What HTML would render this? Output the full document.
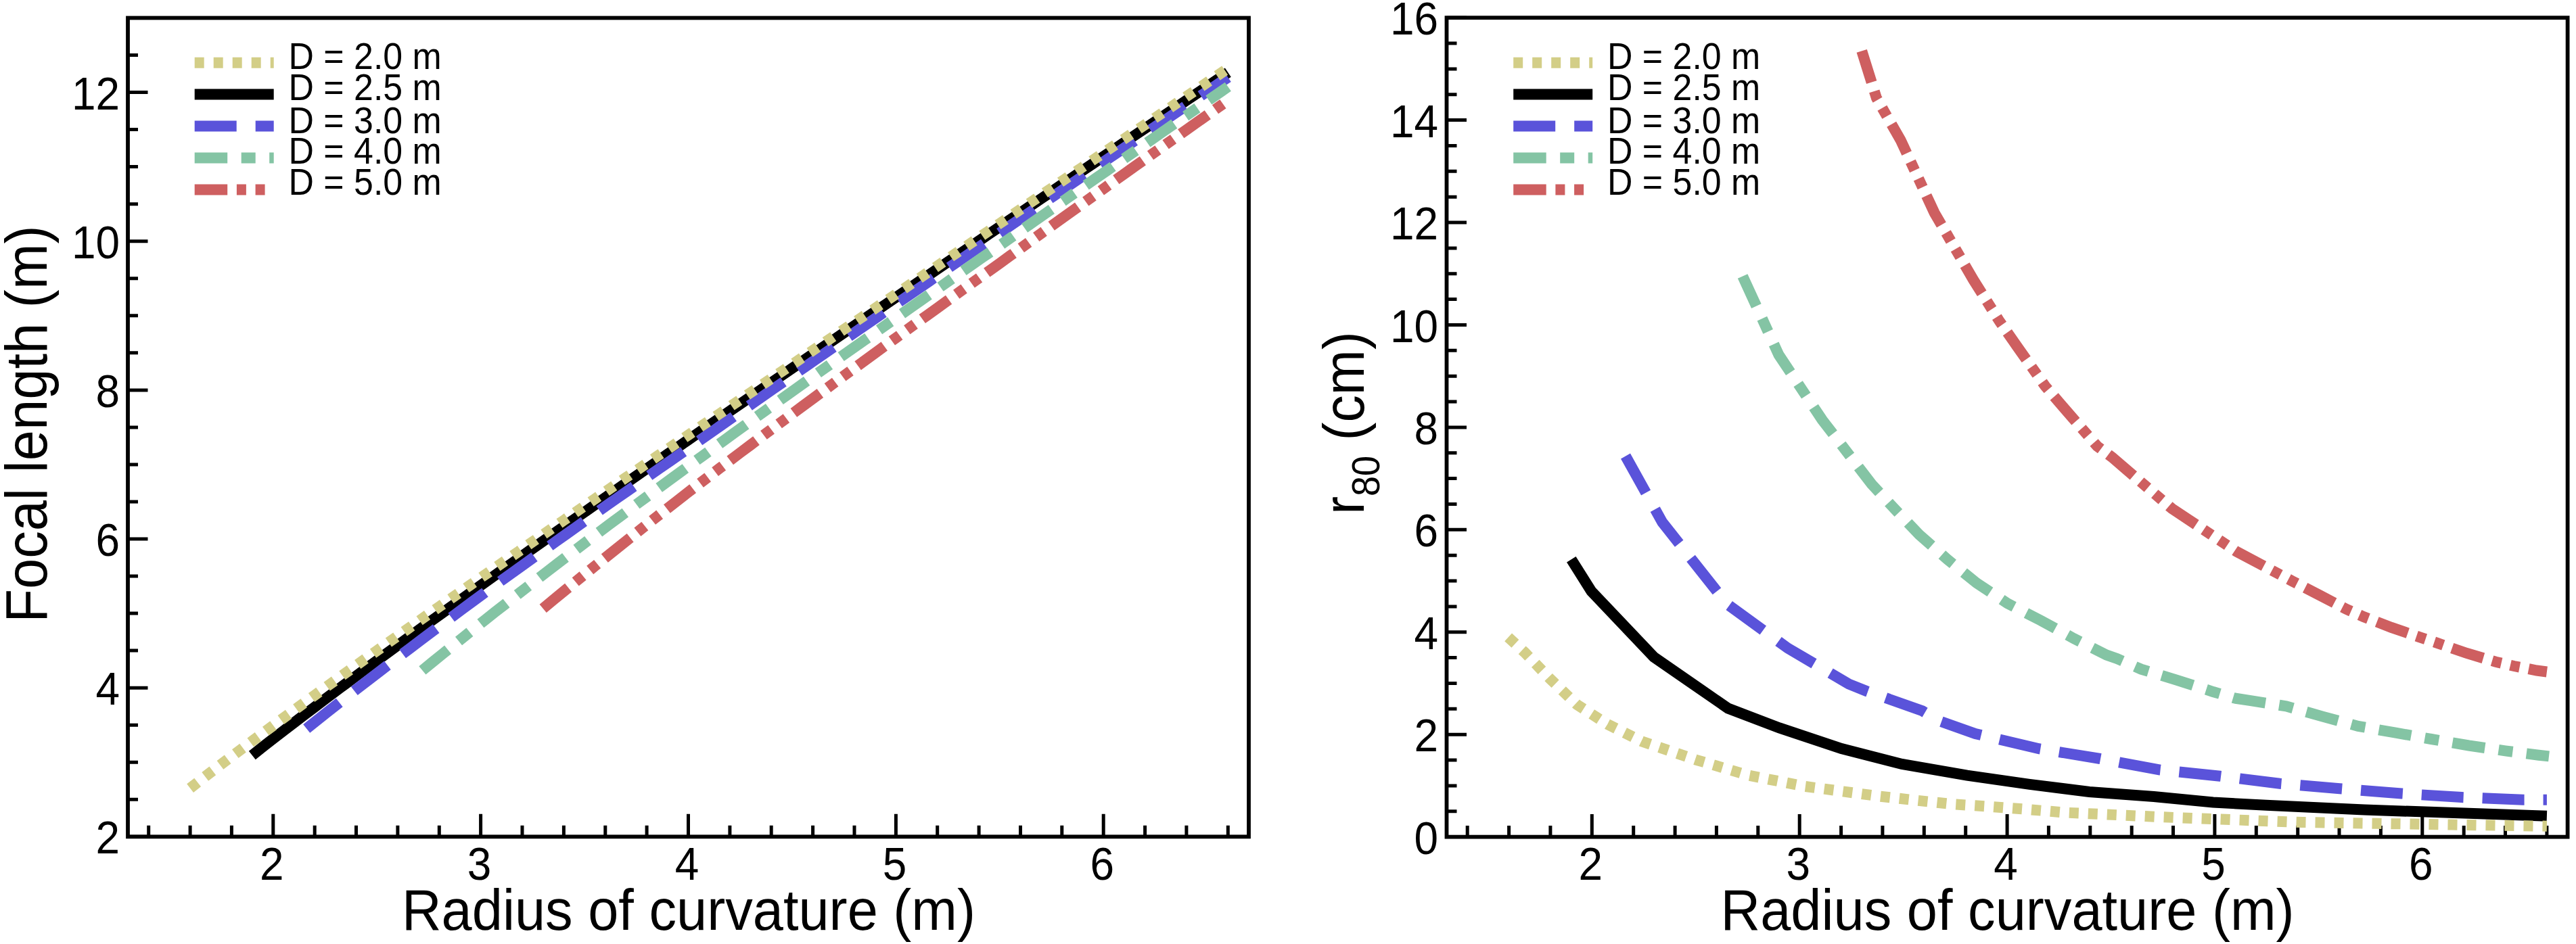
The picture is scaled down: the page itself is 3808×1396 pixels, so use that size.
<!DOCTYPE html><html><head><meta charset="utf-8"><style>html,body{margin:0;padding:0;background:#fff;width:3808px;height:1396px;overflow:hidden}svg{display:block}</style></head><body>
<svg width="3808" height="1396" viewBox="0 0 3808 1396" font-family='"Liberation Sans", sans-serif'>
<rect width="3808" height="1396" fill="#fff"/>
<rect x="189.0" y="26.5" width="1657.0" height="1210.8" fill="none" stroke="#000" stroke-width="5.8"/>
<path d="M219.7 1237.3V1220.8M281.1 1237.3V1220.8M342.4 1237.3V1220.8M403.8 1237.3V1203.8M465.2 1237.3V1220.8M526.5 1237.3V1220.8M587.9 1237.3V1220.8M649.3 1237.3V1220.8M710.6 1237.3V1203.8M772.0 1237.3V1220.8M833.4 1237.3V1220.8M894.8 1237.3V1220.8M956.1 1237.3V1220.8M1017.5 1237.3V1203.8M1078.9 1237.3V1220.8M1140.2 1237.3V1220.8M1201.6 1237.3V1220.8M1263.0 1237.3V1220.8M1324.4 1237.3V1203.8M1385.7 1237.3V1220.8M1447.1 1237.3V1220.8M1508.5 1237.3V1220.8M1569.8 1237.3V1220.8M1631.2 1237.3V1203.8M1692.6 1237.3V1220.8M1753.9 1237.3V1220.8M1815.3 1237.3V1220.8M189.0 1237.3H218.5M189.0 1017.2H218.5M189.0 797.0H218.5M189.0 576.9H218.5M189.0 356.7H218.5M189.0 136.6H218.5M189.0 1182.3H204.0M189.0 1127.2H204.0M189.0 1072.2H204.0M189.0 962.1H204.0M189.0 907.1H204.0M189.0 852.0H204.0M189.0 742.0H204.0M189.0 686.9H204.0M189.0 631.9H204.0M189.0 521.8H204.0M189.0 466.8H204.0M189.0 411.8H204.0M189.0 301.7H204.0M189.0 246.6H204.0M189.0 191.6H204.0M189.0 81.5H204.0" stroke="#000" stroke-width="5.0" fill="none"/>
<text transform="translate(401.8,1301.0) scale(0.94,1)" font-size="68" text-anchor="middle">2</text>
<text transform="translate(708.6,1301.0) scale(0.94,1)" font-size="68" text-anchor="middle">3</text>
<text transform="translate(1015.5,1301.0) scale(0.94,1)" font-size="68" text-anchor="middle">4</text>
<text transform="translate(1322.4,1301.0) scale(0.94,1)" font-size="68" text-anchor="middle">5</text>
<text transform="translate(1629.2,1301.0) scale(0.94,1)" font-size="68" text-anchor="middle">6</text>
<text transform="translate(177.0,1262.3) scale(0.94,1)" font-size="68" text-anchor="end">2</text>
<text transform="translate(177.0,1042.2) scale(0.94,1)" font-size="68" text-anchor="end">4</text>
<text transform="translate(177.0,822.0) scale(0.94,1)" font-size="68" text-anchor="end">6</text>
<text transform="translate(177.0,601.9) scale(0.94,1)" font-size="68" text-anchor="end">8</text>
<text transform="translate(177.0,381.7) scale(0.94,1)" font-size="68" text-anchor="end">10</text>
<text transform="translate(177.0,161.6) scale(0.94,1)" font-size="68" text-anchor="end">12</text>
<rect x="2138.5" y="26.2" width="1657.1" height="1211.4" fill="none" stroke="#000" stroke-width="5.8"/>
<path d="M2169.2 1237.6V1221.1M2230.6 1237.6V1221.1M2291.9 1237.6V1221.1M2353.3 1237.6V1204.1M2414.7 1237.6V1221.1M2476.1 1237.6V1221.1M2537.4 1237.6V1221.1M2598.8 1237.6V1221.1M2660.2 1237.6V1204.1M2721.6 1237.6V1221.1M2782.9 1237.6V1221.1M2844.3 1237.6V1221.1M2905.7 1237.6V1221.1M2967.1 1237.6V1204.1M3028.4 1237.6V1221.1M3089.8 1237.6V1221.1M3151.2 1237.6V1221.1M3212.5 1237.6V1221.1M3273.9 1237.6V1204.1M3335.3 1237.6V1221.1M3396.7 1237.6V1221.1M3458.0 1237.6V1221.1M3519.4 1237.6V1221.1M3580.8 1237.6V1204.1M3642.2 1237.6V1221.1M3703.5 1237.6V1221.1M3764.9 1237.6V1221.1M2138.5 1237.6H2168.0M2138.5 1086.2H2168.0M2138.5 934.8H2168.0M2138.5 783.3H2168.0M2138.5 631.9H2168.0M2138.5 480.5H2168.0M2138.5 329.0H2168.0M2138.5 177.6H2168.0M2138.5 26.2H2168.0M2138.5 1199.7H2153.5M2138.5 1161.9H2153.5M2138.5 1124.0H2153.5M2138.5 1048.3H2153.5M2138.5 1010.5H2153.5M2138.5 972.6H2153.5M2138.5 896.9H2153.5M2138.5 859.0H2153.5M2138.5 821.2H2153.5M2138.5 745.5H2153.5M2138.5 707.6H2153.5M2138.5 669.8H2153.5M2138.5 594.0H2153.5M2138.5 556.2H2153.5M2138.5 518.3H2153.5M2138.5 442.6H2153.5M2138.5 404.8H2153.5M2138.5 366.9H2153.5M2138.5 291.2H2153.5M2138.5 253.3H2153.5M2138.5 215.5H2153.5M2138.5 139.8H2153.5M2138.5 101.9H2153.5M2138.5 64.1H2153.5" stroke="#000" stroke-width="5.0" fill="none"/>
<text transform="translate(2351.3,1301.0) scale(0.94,1)" font-size="68" text-anchor="middle">2</text>
<text transform="translate(2658.2,1301.0) scale(0.94,1)" font-size="68" text-anchor="middle">3</text>
<text transform="translate(2965.1,1301.0) scale(0.94,1)" font-size="68" text-anchor="middle">4</text>
<text transform="translate(3271.9,1301.0) scale(0.94,1)" font-size="68" text-anchor="middle">5</text>
<text transform="translate(3578.8,1301.0) scale(0.94,1)" font-size="68" text-anchor="middle">6</text>
<text transform="translate(2126.0,1262.6) scale(0.94,1)" font-size="68" text-anchor="end">0</text>
<text transform="translate(2126.0,1111.2) scale(0.94,1)" font-size="68" text-anchor="end">2</text>
<text transform="translate(2126.0,959.8) scale(0.94,1)" font-size="68" text-anchor="end">4</text>
<text transform="translate(2126.0,808.3) scale(0.94,1)" font-size="68" text-anchor="end">6</text>
<text transform="translate(2126.0,656.9) scale(0.94,1)" font-size="68" text-anchor="end">8</text>
<text transform="translate(2126.0,505.5) scale(0.94,1)" font-size="68" text-anchor="end">10</text>
<text transform="translate(2126.0,354.0) scale(0.94,1)" font-size="68" text-anchor="end">12</text>
<text transform="translate(2126.0,202.6) scale(0.94,1)" font-size="68" text-anchor="end">14</text>
<text transform="translate(2126.0,51.2) scale(0.94,1)" font-size="68" text-anchor="end">16</text>
<g>
<polyline points="372.8,1116.9 388.1,1104.8 403.5,1092.8 418.8,1081.0 434.2,1069.2 449.5,1057.4 464.9,1045.8 480.2,1034.2 495.5,1022.6 510.9,1011.2 526.2,999.8 541.6,988.4 556.9,977.1 572.3,965.8 587.6,954.6 602.9,943.4 618.3,932.2 633.6,921.1 649.0,910.0 664.3,898.9 679.7,887.9 695.0,876.9 710.3,865.9 725.7,855.0 741.0,844.1 756.4,833.2 771.7,822.3 787.1,811.4 802.4,800.6 817.7,789.8 833.1,779.0 848.4,768.2 863.8,757.5 879.1,746.7 894.5,736.0 909.8,725.3 925.1,714.6 940.5,703.9 955.8,693.2 971.2,682.6 986.5,671.9 1001.9,661.3 1017.2,650.6 1032.5,640.0 1047.9,629.4 1063.2,618.8 1078.6,608.2 1093.9,597.7 1109.2,587.1 1124.6,576.6 1139.9,566.0 1155.3,555.5 1170.6,544.9 1186.0,534.4 1201.3,523.9 1216.6,513.4 1232.0,502.9 1247.3,492.4 1262.7,481.9 1278.0,471.4 1293.4,460.9 1308.7,450.5 1324.0,440.0 1339.4,429.5 1354.7,419.1 1370.1,408.6 1385.4,398.2 1400.8,387.7 1416.1,377.3 1431.4,366.9 1446.8,356.5 1462.1,346.0 1477.5,335.6 1492.8,325.2 1508.2,314.8 1523.5,304.4 1538.8,294.0 1554.2,283.6 1569.5,273.2 1584.9,262.8 1600.2,252.4 1615.6,242.0 1630.9,231.7 1646.2,221.3 1661.6,210.9 1676.9,200.5 1692.3,190.2 1707.6,179.8 1723.0,169.4 1738.3,159.1 1753.6,148.7 1769.0,138.4 1784.3,128.0 1799.7,117.7 1815.0,107.3 1815.3,107.1" fill="none" stroke="#000000" stroke-width="16.0" stroke-linejoin="miter" stroke-linecap="butt"/>
<polyline points="453.2,1077.6 468.5,1065.3 483.9,1053.1 499.2,1041.0 514.6,1029.0 529.9,1017.0 545.3,1005.1 560.6,993.3 575.9,981.6 591.3,969.9 606.6,958.3 622.0,946.7 637.3,935.2 652.7,923.7 668.0,912.3 683.3,900.9 698.7,889.5 714.0,878.3 729.4,867.1 744.7,856.0 760.1,845.0 775.4,833.9 790.7,822.9 806.1,812.0 821.4,801.0 836.8,790.1 852.1,779.2 867.4,768.3 882.8,757.5 898.1,746.6 913.5,735.8 928.8,725.1 944.2,714.3 959.5,703.5 974.8,692.8 990.2,682.1 1005.5,671.4 1020.9,660.7 1036.2,649.9 1051.6,639.2 1066.9,628.4 1082.2,617.7 1097.6,606.9 1112.9,596.2 1128.3,585.5 1143.6,574.8 1159.0,564.2 1174.3,553.5 1189.6,542.9 1205.0,532.2 1220.3,521.6 1235.7,511.0 1251.0,500.3 1266.4,489.7 1281.7,479.1 1297.0,468.6 1312.4,458.0 1327.7,447.4 1343.1,436.9 1358.4,426.3 1373.8,415.8 1389.1,405.2 1404.4,394.7 1419.8,384.2 1435.1,373.6 1450.5,363.1 1465.8,352.6 1481.2,342.1 1496.5,331.6 1511.8,321.1 1527.2,310.6 1542.5,300.1 1557.9,289.6 1573.2,279.1 1588.6,268.7 1603.9,258.2 1619.2,247.7 1634.6,237.2 1649.9,226.8 1665.3,216.3 1680.6,205.9 1695.9,195.4 1711.3,185.0 1726.6,174.6 1742.0,164.1 1757.3,153.7 1772.7,143.3 1788.0,132.8 1803.3,122.4 1815.3,114.3" fill="none" stroke="#5A53DA" stroke-width="16.0" stroke-linejoin="miter" stroke-linecap="butt" stroke-dasharray="62 28"/>
<polyline points="624.4,991.4 639.8,978.8 655.1,966.4 670.5,954.0 685.8,941.7 701.1,929.4 716.5,917.2 731.8,905.1 747.2,893.1 762.5,881.1 777.8,869.2 793.2,857.3 808.5,845.5 823.9,833.7 839.2,822.0 854.6,810.3 869.9,798.7 885.2,787.2 900.6,775.7 915.9,764.3 931.3,752.9 946.6,741.6 962.0,730.3 977.3,719.0 992.6,707.7 1008.0,696.5 1023.3,685.3 1038.7,674.2 1054.0,663.0 1069.4,651.9 1084.7,640.8 1100.0,629.8 1115.4,618.7 1130.7,607.7 1146.1,596.7 1161.4,585.7 1176.8,574.8 1192.1,563.8 1207.4,552.9 1222.8,542.0 1238.1,531.1 1253.5,520.3 1268.8,509.4 1284.2,498.6 1299.5,487.8 1314.8,477.0 1330.2,466.2 1345.5,455.4 1360.9,444.6 1376.2,433.9 1391.6,423.2 1406.9,412.4 1422.2,401.7 1437.6,391.0 1452.9,380.3 1468.3,369.7 1483.6,359.0 1499.0,348.2 1514.3,337.4 1529.6,326.7 1545.0,316.0 1560.3,305.2 1575.7,294.5 1591.0,283.8 1606.3,273.1 1621.7,262.4 1637.0,251.8 1652.4,241.1 1667.7,230.4 1683.1,219.8 1698.4,209.1 1713.7,198.5 1729.1,187.8 1744.4,177.2 1759.8,166.6 1775.1,156.0 1790.5,145.4 1805.8,134.8 1815.3,128.2" fill="none" stroke="#84C4A4" stroke-width="16.0" stroke-linejoin="miter" stroke-linecap="butt" stroke-dasharray="48.5 20.5 21 20.5"/>
<polyline points="802.7,899.9 818.0,887.2 833.4,874.5 848.7,862.0 864.1,849.5 879.4,837.1 894.8,824.7 910.1,812.4 925.4,800.2 940.8,788.0 956.1,775.8 971.5,763.7 986.8,751.7 1002.2,739.7 1017.5,727.8 1032.8,716.0 1048.2,704.3 1063.5,692.7 1078.9,681.1 1094.2,669.5 1109.6,658.0 1124.9,646.5 1140.2,635.0 1155.6,623.6 1170.9,612.2 1186.3,600.8 1201.6,589.5 1217.0,578.1 1232.3,566.9 1247.6,555.6 1263.0,544.4 1278.3,533.2 1293.7,522.0 1309.0,510.8 1324.4,499.7 1339.7,488.6 1355.0,477.5 1370.4,466.4 1385.7,455.4 1401.1,444.3 1416.4,433.3 1431.7,422.3 1447.1,411.3 1462.4,400.4 1477.8,389.4 1493.1,378.3 1508.5,367.3 1523.8,356.2 1539.1,345.2 1554.5,334.1 1569.8,323.1 1585.2,312.1 1600.5,301.1 1615.9,290.1 1631.2,279.2 1646.5,268.2 1661.9,257.3 1677.2,246.3 1692.6,235.4 1707.9,224.5 1723.3,213.6 1738.6,202.8 1753.9,191.9 1769.3,181.0 1784.6,170.2 1800.0,159.3 1815.3,148.5" fill="none" stroke="#CE5F60" stroke-width="16.0" stroke-linejoin="miter" stroke-linecap="butt" stroke-dasharray="48.5 13.7 14 13.7 14 13.7"/>
<polyline points="281.1,1165.6 296.4,1153.7 311.7,1141.9 327.1,1130.2 342.4,1118.6 357.8,1107.1 373.1,1095.7 388.5,1084.3 403.8,1073.0 419.1,1061.7 434.5,1050.5 449.8,1039.3 465.2,1028.2 480.5,1017.1 495.9,1006.0 511.2,995.0 526.5,984.1 541.9,973.1 557.2,962.2 572.6,951.3 587.9,940.5 603.3,929.6 618.6,918.8 633.9,908.0 649.3,897.3 664.6,886.5 680.0,875.8 695.3,865.1 710.6,854.4 726.0,843.8 741.3,833.1 756.7,822.5 772.0,811.8 787.4,801.2 802.7,790.6 818.0,780.0 833.4,769.5 848.7,758.9 864.1,748.3 879.4,737.8 894.8,727.3 910.1,716.7 925.4,706.2 940.8,695.7 956.1,685.2 971.5,674.7 986.8,664.3 1002.2,653.8 1017.5,643.3 1032.8,632.9 1048.2,622.4 1063.5,612.0 1078.9,601.5 1094.2,591.1 1109.6,580.7 1124.9,570.2 1140.2,559.8 1155.6,549.4 1170.9,539.0 1186.3,528.6 1201.6,518.2 1217.0,507.8 1232.3,497.4 1247.6,487.0 1263.0,476.7 1278.3,466.3 1293.7,455.9 1309.0,445.5 1324.4,435.2 1339.7,424.7 1355.0,414.2 1370.4,403.7 1385.7,393.3 1401.1,382.8 1416.4,372.3 1431.8,361.9 1447.1,351.4 1462.4,341.0 1477.8,330.5 1493.1,320.1 1508.5,309.6 1523.8,299.2 1539.1,288.7 1554.5,278.3 1569.8,267.8 1585.2,257.4 1600.5,247.0 1615.9,236.5 1631.2,226.1 1646.5,215.7 1661.9,205.3 1677.2,194.8 1692.6,184.4 1707.9,174.0 1723.3,163.6 1738.6,153.2 1753.9,142.7 1769.3,132.3 1784.6,121.9 1800.0,111.5 1815.3,101.1" fill="none" stroke="#D3CE87" stroke-width="16.0" stroke-linejoin="miter" stroke-linecap="butt" stroke-dasharray="14 14"/>
<polyline points="2322.8,827.3 2352.4,874.3 2444.8,971.6 2554.6,1047.6 2630.4,1076.4 2722.2,1107.1 2811.5,1130.0 2907.8,1146.7 3000.2,1159.8 3088.6,1171.0 3184.0,1178.0 3271.5,1186.5 3350.0,1190.8 3494.9,1197.5 3764.9,1206.7" fill="none" stroke="#000000" stroke-width="16.0" stroke-linejoin="miter" stroke-linecap="butt"/>
<polyline points="2403.0,674.5 2457.3,772.3 2552.8,893.1 2643.0,958.6 2733.2,1011.6 2759.6,1022.2 2841.8,1051.3 2867.9,1066.6 2920.1,1085.0 3014.0,1107.2 3104.5,1122.0 3193.2,1138.6 3281.6,1147.7 3370.0,1158.8 3458.7,1166.2 3550.1,1173.5 3639.1,1179.1 3729.6,1182.8 3764.9,1182.8" fill="none" stroke="#5A53DA" stroke-width="16.0" stroke-linejoin="miter" stroke-linecap="butt" stroke-dasharray="62 28"/>
<polyline points="2576.1,408.5 2629.5,524.8 2693.6,620.8 2766.7,715.9 2799.2,750.9 2837.2,790.7 2878.7,827.2 2921.9,862.1 2967.7,892.4 3017.1,917.7 3065.6,944.2 3114.0,968.6 3129.4,974.0 3165.3,989.7 3217.5,1005.6 3271.5,1023.0 3303.4,1032.5 3325.5,1035.8 3379.5,1044.4 3433.5,1059.6 3486.0,1073.9 3540.0,1083.4 3594.0,1093.0 3649.5,1102.5 3703.5,1110.4 3752.9,1116.7 3768.0,1118.4" fill="none" stroke="#84C4A4" stroke-width="16.0" stroke-linejoin="miter" stroke-linecap="butt" stroke-dasharray="48.5 20.5 21 20.5"/>
<polyline points="2752.2,75.4 2774.0,145.1 2809.6,207.2 2859.6,314.7 2917.3,414.0 2956.0,475.4 2981.8,512.3 3023.2,570.9 3053.0,605.5 3100.2,659.8 3121.7,675.8 3210.7,752.1 3306.1,815.6 3389.0,859.6 3428.9,880.2 3468.5,900.8 3493.9,912.0 3535.1,927.9 3576.5,942.1 3605.0,951.6 3646.5,966.0 3689.4,978.7 3716.4,985.0 3749.9,991.5 3764.9,993.5" fill="none" stroke="#CE5F60" stroke-width="16.0" stroke-linejoin="miter" stroke-linecap="butt" stroke-dasharray="48.5 13.7 14 13.7 14 13.7"/>
<polyline points="2229.6,942.3 2253.9,964.8 2291.9,1004.4 2331.5,1042.3 2376.3,1071.0 2427.0,1096.3 2506.1,1123.3 2585.3,1146.7 2668.2,1162.9 2776.2,1177.3 2832.0,1183.5 2887.0,1189.3 2942.2,1192.8 2996.8,1196.9 3052.4,1201.6 3079.7,1202.8 3189.8,1208.0 3328.2,1213.3 3403.4,1216.0 3513.9,1217.8 3624.7,1219.6 3764.9,1221.7" fill="none" stroke="#D3CE87" stroke-width="16.0" stroke-linejoin="miter" stroke-linecap="butt" stroke-dasharray="14 14"/>
</g>
<line x1="287.7" y1="92.7" x2="404.7" y2="92.7" stroke="#D3CE87" stroke-width="16.0" stroke-dasharray="14 14"/>
<text transform="translate(426.5,102.4) scale(0.95,1)" font-size="54.6">D = 2.0 m</text>
<line x1="287.7" y1="139.5" x2="404.7" y2="139.5" stroke="#000000" stroke-width="16.0"/>
<text transform="translate(426.5,148.2) scale(0.95,1)" font-size="54.6">D = 2.5 m</text>
<line x1="287.7" y1="186.5" x2="404.7" y2="186.5" stroke="#5A53DA" stroke-width="16.0" stroke-dasharray="62 28"/>
<text transform="translate(426.5,196.6) scale(0.95,1)" font-size="54.6">D = 3.0 m</text>
<line x1="287.7" y1="233.5" x2="404.7" y2="233.5" stroke="#84C4A4" stroke-width="16.0" stroke-dasharray="48.5 20.5 21 20.5"/>
<text transform="translate(426.5,242.2) scale(0.95,1)" font-size="54.6">D = 4.0 m</text>
<line x1="287.7" y1="280.5" x2="404.7" y2="280.5" stroke="#CE5F60" stroke-width="16.0" stroke-dasharray="48.5 13.7 14 13.7 14 13.7"/>
<text transform="translate(426.5,288.0) scale(0.95,1)" font-size="54.6">D = 5.0 m</text>
<line x1="2237.2" y1="92.7" x2="2354.2" y2="92.7" stroke="#D3CE87" stroke-width="16.0" stroke-dasharray="14 14"/>
<text transform="translate(2376.0,102.4) scale(0.95,1)" font-size="54.6">D = 2.0 m</text>
<line x1="2237.2" y1="139.5" x2="2354.2" y2="139.5" stroke="#000000" stroke-width="16.0"/>
<text transform="translate(2376.0,148.2) scale(0.95,1)" font-size="54.6">D = 2.5 m</text>
<line x1="2237.2" y1="186.5" x2="2354.2" y2="186.5" stroke="#5A53DA" stroke-width="16.0" stroke-dasharray="62 28"/>
<text transform="translate(2376.0,196.6) scale(0.95,1)" font-size="54.6">D = 3.0 m</text>
<line x1="2237.2" y1="233.5" x2="2354.2" y2="233.5" stroke="#84C4A4" stroke-width="16.0" stroke-dasharray="48.5 20.5 21 20.5"/>
<text transform="translate(2376.0,242.2) scale(0.95,1)" font-size="54.6">D = 4.0 m</text>
<line x1="2237.2" y1="280.5" x2="2354.2" y2="280.5" stroke="#CE5F60" stroke-width="16.0" stroke-dasharray="48.5 13.7 14 13.7 14 13.7"/>
<text transform="translate(2376.0,288.0) scale(0.95,1)" font-size="54.6">D = 5.0 m</text>
<text transform="translate(1018,1375.3) scale(0.944,1)" font-size="86" text-anchor="middle">Radius of curvature (m)</text>
<text transform="translate(2967.6,1375.3) scale(0.944,1)" font-size="86" text-anchor="middle">Radius of curvature (m)</text>
<text transform="translate(69.3,627) rotate(-90) scale(0.94,1)" font-size="86.5" text-anchor="middle">Focal length (m)</text>
<text transform="translate(2015.6,625.5) rotate(-90) scale(0.94,1)" font-size="85.8" text-anchor="middle">r<tspan font-size="57.4" dy="23.4">80</tspan><tspan dy="-23.4"> (cm)</tspan></text>
</svg></body></html>
